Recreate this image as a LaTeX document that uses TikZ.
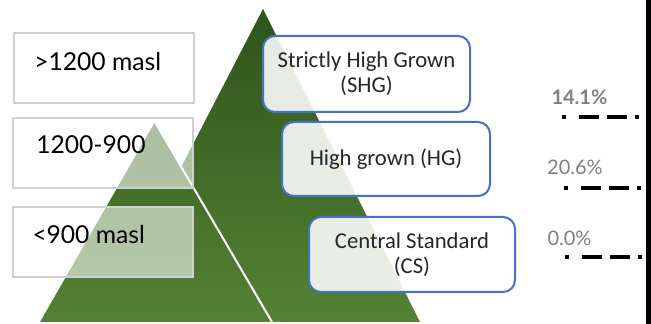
\documentclass[tikz,border=0pt]{standalone}
\usepackage{fontspec}
\setmainfont{Lato}
\newfontfamily\calibri{Carlito}
\definecolor{greentop}{RGB}{46,84,26}
\definecolor{greenmid}{RGB}{60,101,35}
\definecolor{greenbot}{RGB}{84,130,52}
\definecolor{bandline}{RGB}{208,208,208}
\definecolor{gradeline}{RGB}{68,114,196}
\definecolor{gradetext}{RGB}{38,38,38}
\definecolor{pctgray}{RGB}{128,128,128}
\begin{document}
\begin{tikzpicture}[x=0.75pt,y=-0.75pt,
  band/.style={draw=bandline, line width=0.9pt, fill=white, fill opacity=0.58,
    minimum width=135pt, minimum height=52.5pt, inner sep=0pt},
  bandtext/.style={anchor=west, inner sep=0pt, font=\fontsize{18.5}{20}\selectfont, text=black},
  grade/.style={draw=gradeline, line width=1.5pt, rounded corners=9pt, fill=white,
    fill opacity=0.88, text opacity=1, text=gradetext, align=center, inner sep=0pt,
    font=\calibri\fontsize{17}{19}\selectfont},
  pct/.style={inner sep=0pt, text=pctgray, font=\fontsize{15}{17}\selectfont},
  share/.style={line width=3pt, dash pattern=on 3pt off 10pt on 15pt off 6pt on 15pt off 6pt}
]
\useasboundingbox (0,0) rectangle (651,324);

% large pyramid and the smaller one in front of it
\shade[top color=greentop, bottom color=greenbot] (263,9) -- (420,322) -- (101,322) -- cycle;
\shade[top color=greenmid, bottom color=greenbot] (155,122) -- (272,322) -- (40,322) -- cycle;
\coordinate (sapex) at (155,122);
\coordinate (sbase) at (272,322);
\draw[white, line width=1.5pt] (sapex) -- (sbase);

% altitude bands
\node[band] (b1) at (104,68) {};
\node[band] (b2) at (103,153) {};
\node[band] (b3) at (103,242) {};
\node[bandtext] (t1) at (34,62) {>1200 masl};
\node[bandtext] (t2) at (36,145) {1200-900};
\node[bandtext] (t3) at (32,235) {<900 masl};

% grade boxes
\node[grade, minimum width=155.25pt, minimum height=57pt] (shg) at (366.5,74) {Strictly High Grown\\(SHG)};
\node[grade, minimum width=156pt, minimum height=55.5pt] (hg) at (386,159) {High grown (HG)};
\node[grade, minimum width=154.5pt, minimum height=56.25pt] (cs) at (412,254.5) {Central Standard\\(CS)};

% shares
\node[pct, font=\bfseries\fontsize{15}{17}\selectfont] (p1) at (579.5,97) {14.1\%};
\node[pct] (p2) at (575,167) {20.6\%};
\node[pct] (p3) at (569.5,238) {0.0\%};

\coordinate (d1s) at (562,117);
\coordinate (d1e) at (648,117);
\coordinate (d2s) at (564,188);
\coordinate (d2e) at (648,188);
\coordinate (d3s) at (565,257);
\coordinate (d3e) at (648,257);
\draw[share] (d1s) -- (d1e);
\draw[share] (d2s) -- (d2e);
\draw[share] (d3s) -- (d3e);

% right-hand axis
\coordinate (axtop) at (648.5,0);
\coordinate (axbot) at (648.5,324);
\draw[line width=3.75pt] (axtop) -- (axbot);
\end{tikzpicture}
\end{document}
